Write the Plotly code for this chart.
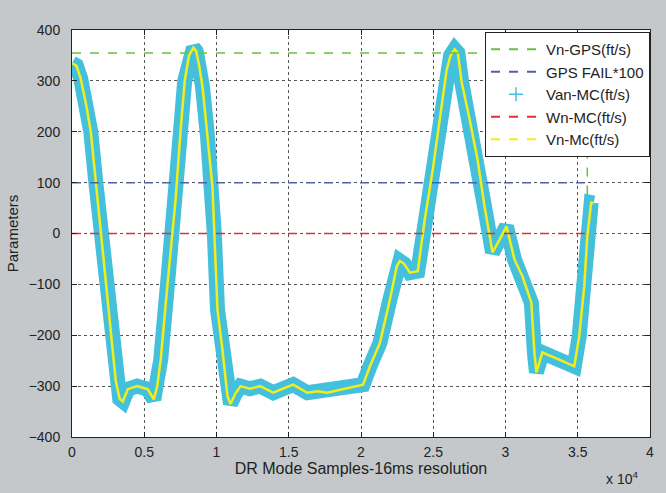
import plotly.graph_objects as go

# ---- data ----
vn_x = [0, 300, 600, 1000, 1300, 1650, 2000, 2350, 2700, 3030, 3300, 3520, 3860, 4500, 5240, 5660, 5900,
        6140, 6620, 6970, 7170, 7520, 7800, 8100, 8400, 8600, 8800, 9030, 9380, 9720, 9850, 10070,
        10410, 10760, 10970, 11300, 11660, 12300, 13030, 13930, 14600, 15310, 16280, 17000, 17660,
        18400, 19030, 20140, 20620, 21310, 22000, 22480, 22690, 23000, 23380, 23930, 24410, 24970,
        25450, 25930, 26200, 26480, 26700, 26970, 27520, 28070, 28550, 29100, 29590, 30070, 30620,
        31170, 31790, 32000, 32140, 32550, 33720, 34760, 35100, 35450, 35660, 35930, 36100]
vn_y = [335, 330, 305, 250, 200, 100, 0, -100, -200, -290, -325, -330, -306, -300, -306, -326, -300,
        -248, -96, 0, 67, 204, 300, 350, 365, 358, 330, 289, 190, 92, 0, -150,
        -228, -320, -335, -315, -300, -305, -300, -313, -305, -297, -313, -310, -313,
        -308, -303, -297, -261, -215, -130, -64, -54, -60, -77, -74, 27, 126,
        224, 322, 350, 362, 355, 297, 224, 145, 53, -37, -12, 14, -51,
        -84, -136, -234, -273, -234, -248, -261, -202, -104, -6, 61, 60]

gps_x = [0, 35660, 35660]
gps_y = [355, 355, 60]
fail_x = [0, 36000]
fail_y = [100, 100]
wn_x = [0, 36000]
wn_y = [0, 0]

xtick_vals = [0, 5000, 10000, 15000, 20000, 25000, 30000, 35000, 40000]
xtick_text = ["0", "0.5", "1", "1.5", "2", "2.5", "3", "3.5", "4"]
ytick_vals = [-400, -300, -200, -100, 0, 100, 200, 300, 400]

FONT = "Arial, Liberation Sans, sans-serif"
CYAN = "#45c0dc"
YEL = "#f2ee1a"
GRAY = "#c4c8cb"

fig = go.Figure()
fig.add_trace(go.Scatter(x=vn_x, y=vn_y, mode="lines", line=dict(color=CYAN, width=15),
                         showlegend=False, hoverinfo="skip"))
fig.add_trace(go.Scatter(x=vn_x, y=vn_y, mode="lines", line=dict(color=YEL, width=2.5),
                         showlegend=False, hoverinfo="skip"))
fig.add_trace(go.Scatter(x=gps_x, y=gps_y, mode="lines", line=dict(color="#6cc040", width=1.5, dash="dash"),
                         showlegend=False))
fig.add_trace(go.Scatter(x=fail_x, y=fail_y, mode="lines", line=dict(color="#5060a8", width=1.5, dash="dash"),
                         showlegend=False))
fig.add_trace(go.Scatter(x=wn_x, y=wn_y, mode="lines", line=dict(color="#e03030", width=1.5, dash="dash"),
                         showlegend=False))

# legend entries
fig.add_trace(go.Scatter(x=[None], y=[None], mode="lines", name="Vn-GPS(ft/s)",
                         line=dict(color="#6cc040", width=2, dash="dash")))
fig.add_trace(go.Scatter(x=[None], y=[None], mode="lines", name="GPS FAIL*100",
                         line=dict(color="#5060a8", width=2, dash="dash")))
fig.add_trace(go.Scatter(x=[None], y=[None], mode="markers", name="Van-MC(ft/s)",
                         marker=dict(symbol="cross-thin", size=10, line=dict(color=CYAN, width=1.5))))
fig.add_trace(go.Scatter(x=[None], y=[None], mode="lines", name="Wn-MC(ft/s)",
                         line=dict(color="#e03030", width=2, dash="dash")))
fig.add_trace(go.Scatter(x=[None], y=[None], mode="lines", name="Vn-Mc(ft/s)",
                         line=dict(color=YEL, width=2, dash="dash")))

axis_common = dict(showline=True, linecolor="#222", linewidth=1, mirror="ticks",
                   ticks="inside", ticklen=5, tickcolor="#222",
                   showgrid=True, gridcolor="#555", griddash="dot", gridwidth=1,
                   zeroline=False, tickfont=dict(family=FONT, size=14, color="#222"))

fig.update_xaxes(range=[0, 40000], tickvals=xtick_vals, ticktext=xtick_text, ticklabelstandoff=2,
                 title=dict(text="DR Mode Samples-16ms resolution", font=dict(family=FONT, size=16, color="#222"),
                            standoff=2), **axis_common)
fig.update_yaxes(range=[-400, 400], tickvals=ytick_vals, ticklabelstandoff=8,
                 title=dict(text="Parameters", font=dict(family=FONT, size=15, color="#222"), standoff=6),
                 **axis_common)

fig.add_annotation(x=1.0, y=0, xref="paper", yref="paper", xanchor="right", yanchor="top",
                   yshift=-30, xshift=-10, showarrow=False,
                   text="x 10<sup>4</sup>", font=dict(family=FONT, size=14, color="#222"))

fig.update_layout(
    width=666, height=493,
    paper_bgcolor=GRAY, plot_bgcolor="white",
    margin=dict(l=71, r=15, t=30, b=56),
    showlegend=True,
    legend=dict(x=1, y=0.995, xanchor="right", yanchor="top", bgcolor="white",
                bordercolor="#222", borderwidth=1, font=dict(family=FONT, size=15, color="#222"),
                tracegroupgap=0, itemwidth=50),
)

fig.write_html("out.html", config={"displayModeBar": False},
               post_script="document.body.style.margin='0';document.body.style.background='%s';" % GRAY)
